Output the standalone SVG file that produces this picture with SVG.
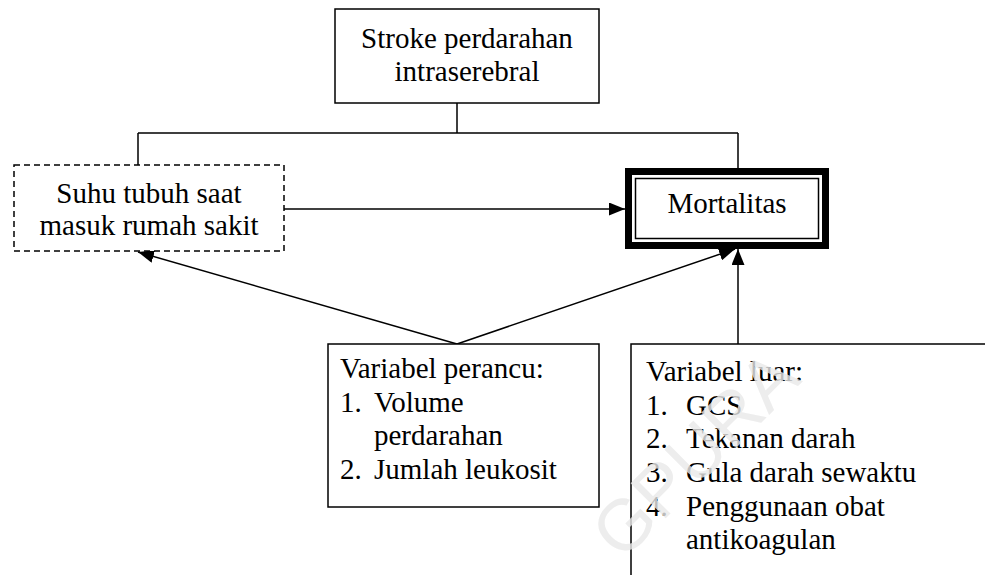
<svg xmlns="http://www.w3.org/2000/svg" width="985" height="575" viewBox="0 0 985 575">
<defs>
<style>
.box{fill:#fff;stroke:#000;stroke-width:1.5}
.dash{fill:#fff;stroke:#000;stroke-width:1.5;stroke-dasharray:6 4}
.t{font-family:"Liberation Serif","Times New Roman",serif;font-size:29px;fill:#000}
.c{text-anchor:middle}
.ln{fill:none;stroke:#000;stroke-width:1.5}
.wm{font-family:"Liberation Sans",Arial,sans-serif;font-size:72px;fill:#e9e9e9}
</style>
<marker id="ah" viewBox="0 0 16 13" refX="16" refY="6.5" markerWidth="16" markerHeight="13" markerUnits="userSpaceOnUse" orient="auto">
<path d="M0,0 L16,6.5 L0,13 z" fill="#000"/>
</marker>
</defs>
<rect width="985" height="575" fill="#fff"/>
<g id="connectors">
<path class="ln" d="M457,103 V133 M138,133 H738 M138,133 V165 M738,133 V168"/>
<line class="ln" x1="284" y1="209" x2="625" y2="209" marker-end="url(#ah)"/>
<line class="ln" x1="457" y1="344" x2="138" y2="252" marker-end="url(#ah)"/>
<line class="ln" x1="457" y1="344" x2="735" y2="249" marker-end="url(#ah)"/>
<line class="ln" x1="738" y1="344" x2="738" y2="249" marker-end="url(#ah)"/>
</g>
<g id="stroke">
<rect class="box" x="335" y="9" width="264" height="94"/>
<text class="t c" x="467" y="48">Stroke perdarahan</text>
<text class="t c" x="467" y="81">intraserebral</text>
</g>
<g id="suhu">
<rect class="dash" x="14" y="165" width="270" height="86"/>
<text class="t c" x="149" y="203">Suhu tubuh saat</text>
<text class="t c" x="149" y="235">masuk rumah sakit</text>
</g>
<g id="mortalitas">
<rect x="628.5" y="171.5" width="197" height="74" fill="#fff" stroke="#000" stroke-width="7"/>
<rect x="635.5" y="178.5" width="183" height="60" fill="none" stroke="#000" stroke-width="1.5"/>
<text class="t c" x="727" y="213">Mortalitas</text>
</g>
<g id="perancu">
<rect class="box" x="328" y="344" width="271" height="163"/>
<text class="t" x="340" y="378">Variabel perancu:</text>
<text class="t" x="340" y="412">1.</text><text class="t" x="374" y="412">Volume</text>
<text class="t" x="374" y="445">perdarahan</text>
<text class="t" x="340" y="479">2.</text><text class="t" x="374" y="479">Jumlah leukosit</text>
</g>
<g id="luar">
<rect class="box" x="631" y="344" width="380" height="260"/>
<text class="t" x="646" y="381">Variabel luar:</text>
<text class="t" x="646" y="415">1.</text><text class="t" x="686" y="415">GCS</text>
<text class="t" x="646" y="448">2.</text><text class="t" x="686" y="448">Tekanan darah</text>
<text class="t" x="646" y="482">3.</text><text class="t" x="686" y="482">Gula darah sewaktu</text>
<text class="t" x="646" y="516">4.</text><text class="t" x="686" y="516">Penggunaan obat</text>
<text class="t" x="686" y="549">antikoagulan</text>
</g>
<text class="wm" transform="translate(622,562) rotate(-45)" opacity="0.8">GPURA</text>
</svg>
